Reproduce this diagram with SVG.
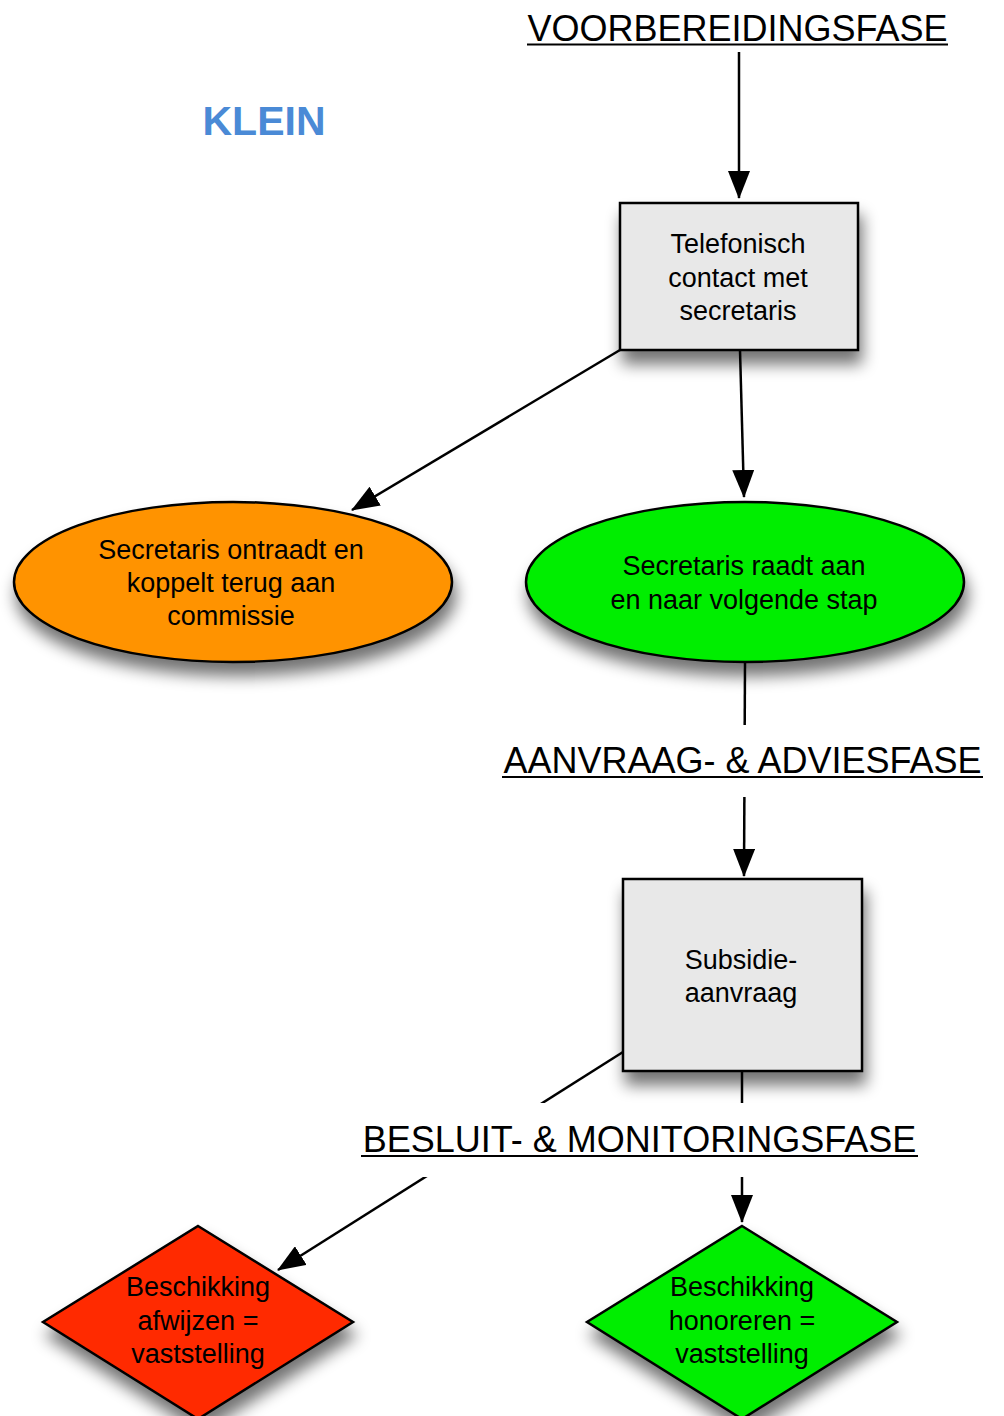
<svg xmlns="http://www.w3.org/2000/svg" width="1004" height="1416" viewBox="0 0 1004 1416">
<defs>
<filter id="sh" x="-20%" y="-20%" width="150%" height="160%">
<feGaussianBlur in="SourceAlpha" stdDeviation="8"/>
<feOffset dx="3" dy="13" result="b"/>
<feComponentTransfer><feFuncA type="linear" slope="0.55"/></feComponentTransfer>
<feMerge><feMergeNode/><feMergeNode in="SourceGraphic"/></feMerge>
</filter>
<marker id="ah" viewBox="0 0 28 22" refX="27" refY="11" markerWidth="28" markerHeight="22" markerUnits="userSpaceOnUse" orient="auto">
<path d="M0,0 L28,11 L0,22 z" fill="#000"/>
</marker>
</defs>
<style>
.t{font-family:"Liberation Sans",Arial,sans-serif;font-size:27px;fill:#000;text-anchor:middle}
.h{font-family:"Liberation Sans",Arial,sans-serif;font-size:36px;fill:#000;text-anchor:middle}
.ul{stroke:#000;stroke-width:2}
.c{stroke:#000;stroke-width:2.5;fill:none}
.ca{stroke:#000;stroke-width:2.5;fill:none;marker-end:url(#ah)}
.n{stroke:#000;stroke-width:2.5}
</style>
<rect width="1004" height="1416" fill="#fff"/>
<g id="connectors">
<line class="ca" x1="739" y1="52" x2="739" y2="198"/>
<line class="ca" x1="620" y1="350" x2="352" y2="510"/>
<line class="ca" x1="740" y1="350" x2="744" y2="497"/>
<line class="ca" x1="745" y1="662" x2="744" y2="876"/>
<line class="ca" x1="623" y1="1052" x2="278" y2="1270"/>
<line class="ca" x1="742" y1="1071" x2="742" y2="1222"/>
</g>
<g id="klein">
<text x="264" y="135" font-family="Liberation Sans,Arial,sans-serif" font-size="41" font-weight="bold" fill="#4a8ad6" text-anchor="middle">KLEIN</text>
</g>
<g id="label-voorbereiding">
<rect x="500" y="0" width="480" height="52" fill="#fff"/>
<text class="h" x="737.5" y="41">VOORBEREIDINGSFASE</text>
<line class="ul" x1="527" y1="44.5" x2="948" y2="44.5"/>
</g>
<g id="telefonisch">
<rect class="n" x="620" y="203" width="238" height="147" fill="#e8e8e8" filter="url(#sh)"/>
<text class="t" x="738" y="253">Telefonisch</text>
<text class="t" x="738" y="287">contact met</text>
<text class="t" x="738" y="320">secretaris</text>
</g>
<g id="ontraadt">
<ellipse class="n" cx="233" cy="582" rx="219" ry="80" fill="#ff9300" filter="url(#sh)"/>
<text class="t" x="231" y="559">Secretaris ontraadt en</text>
<text class="t" x="231" y="592">koppelt terug aan</text>
<text class="t" x="231" y="625">commissie</text>
</g>
<g id="raadt-aan">
<ellipse class="n" cx="745" cy="582" rx="219" ry="80" fill="#00ee00" filter="url(#sh)"/>
<text class="t" x="744" y="575">Secretaris raadt aan</text>
<text class="t" x="744" y="609">en naar volgende stap</text>
</g>
<g id="label-aanvraag">
<rect x="495" y="725" width="500" height="72" fill="#fff"/>
<text class="h" x="742.5" y="773">AANVRAAG- &amp; ADVIESFASE</text>
<line class="ul" x1="502" y1="777" x2="983" y2="777"/>
</g>
<g id="subsidie">
<rect class="n" x="623" y="879" width="239" height="192" fill="#e8e8e8" filter="url(#sh)"/>
<text class="t" x="741" y="969">Subsidie-</text>
<text class="t" x="741" y="1002">aanvraag</text>
</g>
<g id="label-besluit">
<rect x="340" y="1103" width="600" height="74" fill="#fff"/>
<text class="h" x="639.5" y="1152">BESLUIT- &amp; MONITORINGSFASE</text>
<line class="ul" x1="361" y1="1156" x2="918" y2="1156"/>
</g>
<g id="afwijzen">
<polygon class="n" points="198,1226 353,1322 198,1419 43,1322" fill="#ff2a00" filter="url(#sh)"/>
<text class="t" x="198" y="1296">Beschikking</text>
<text class="t" x="198" y="1330">afwijzen =</text>
<text class="t" x="198" y="1363">vaststelling</text>
</g>
<g id="honoreren">
<polygon class="n" points="742,1226 897,1322 742,1419 587,1322" fill="#00ee00" filter="url(#sh)"/>
<text class="t" x="742" y="1296">Beschikking</text>
<text class="t" x="742" y="1330">honoreren =</text>
<text class="t" x="742" y="1363">vaststelling</text>
</g>
</svg>
